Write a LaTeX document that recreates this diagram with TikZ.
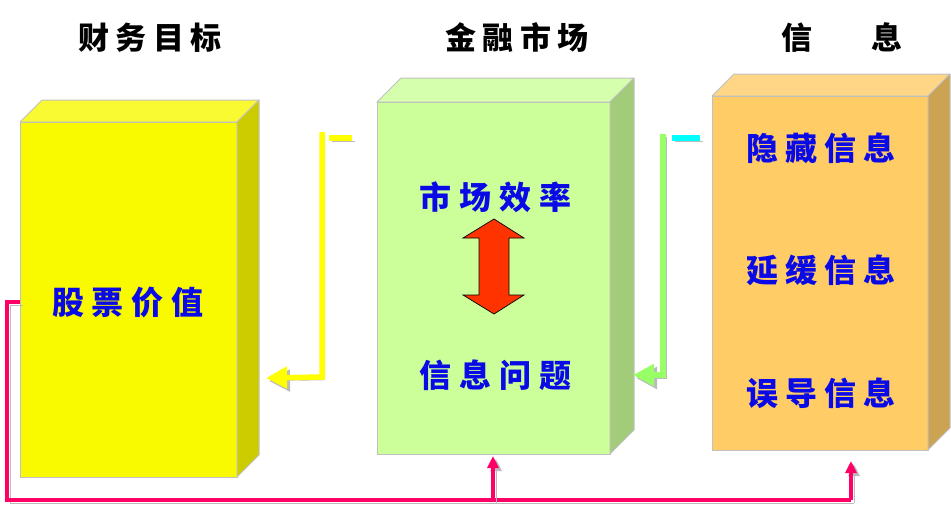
\documentclass[tikz,border=0pt]{standalone}
\usepackage{fontspec}
\newfontfamily\cjk{Noto Sans CJK SC}
\usetikzlibrary{calc,arrows.meta}
\definecolor{yfront}{HTML}{F9F900}
\definecolor{ytop}{HTML}{FAFA33}
\definecolor{yside}{HTML}{CCCC00}
\definecolor{gfront}{HTML}{CCFF99}
\definecolor{gtop}{HTML}{D6FFAD}
\definecolor{gside}{HTML}{A3CC7A}
\definecolor{ofront}{HTML}{FFCC66}
\definecolor{otop}{HTML}{FFD685}
\definecolor{oside}{HTML}{CCA352}
\definecolor{edge}{HTML}{C0C0C0}
\definecolor{txtblue}{HTML}{0A0AE6}
\definecolor{pinkline}{HTML}{FF0066}
\definecolor{yline}{HTML}{FFFF00}
\definecolor{gline}{HTML}{99FF66}
\definecolor{cline}{HTML}{00FFFF}
\definecolor{shadowc}{HTML}{BBBBBB}
\definecolor{redarrow}{HTML}{FF3300}
\newcommand\fourc[5]{#2\kern#1#3\kern#1#4\kern#1#5}
\begin{document}
\begin{tikzpicture}[x=1pt,y=-1pt,
  frontface/.style={draw=edge,line width=1pt,inner sep=0pt,outer sep=0pt},
  facebox/.style={draw=edge,line width=1pt,line join=round},
  title/.style={font=\cjk\bfseries\fontsize{31}{31}\selectfont,text=black,inner sep=0pt},
  boxtext/.style={font=\cjk\bfseries\fontsize{32}{32}\selectfont,text=txtblue,inner sep=0pt},
  shadowed/.style={preaction={draw=shadowc,transform canvas={shift={(3pt,-3pt)}}}},
  thickline/.style={line width=5.5pt,shadowed},
  pinkconn/.style={draw=pinkline,line width=3.5pt,shadowed},
  bigtip/.style={-{Triangle[length=21pt,width=21pt]}},
  smalltip/.style={-{Triangle[length=12pt,width=11pt]}}
]
\useasboundingbox (0,0) rectangle (951,509);

% titles
\node[title] (t1) at (150,38) {\fourc{6.5pt}{财}{务}{目}{标}};
\node[title] (t2) at (517,38) {\fourc{6.5pt}{金}{融}{市}{场}};
\node[title] (t3) at (842,38) {信\kern59pt息};

% yellow box
\node[frontface,fill=yfront,minimum width=217pt,minimum height=355pt] (yb) at (128.5,299.5) {};
\fill[ytop,facebox] (yb.north west) -- ($(yb.north west)+(22,-22)$) -- ($(yb.north east)+(22,-22)$) -- (yb.north east) -- cycle;
\fill[yside,facebox] (yb.north east) -- ($(yb.north east)+(22,-22)$) -- ($(yb.south east)+(22,-22)$) -- (yb.south east) -- cycle;
\node[boxtext] (ytxt) at (128,302) {\fourc{8pt}{股}{票}{价}{值}};

% green box
\node[frontface,fill=gfront,minimum width=233pt,minimum height=352pt] (gb) at (493.5,278) {};
\fill[gtop,facebox] (gb.north west) -- ($(gb.north west)+(24,-24)$) -- ($(gb.north east)+(24,-24)$) -- (gb.north east) -- cycle;
\fill[gside,facebox] (gb.north east) -- ($(gb.north east)+(24,-24)$) -- ($(gb.south east)+(24,-24)$) -- (gb.south east) -- cycle;
\node[boxtext] (gtxt1) at (495,197) {\fourc{8pt}{市}{场}{效}{率}};
\node[boxtext] (gtxt2) at (495,375) {\fourc{8pt}{信}{息}{问}{题}};
% double arrow
\filldraw[fill=redarrow,draw=black,line width=0.7pt,line join=miter]
  (494,219) -- (524,238) -- (509,238) -- (509,295) -- (524,295) -- (494,314)
  -- (463,295) -- (479,295) -- (479,238) -- (463,238) -- cycle;

% orange box
\node[frontface,fill=ofront,minimum width=216pt,minimum height=354pt] (ob) at (820,273) {};
\fill[otop,facebox] (ob.north west) -- ($(ob.north west)+(22,-22)$) -- ($(ob.north east)+(22,-22)$) -- (ob.north east) -- cycle;
\fill[oside,facebox] (ob.north east) -- ($(ob.north east)+(22,-22)$) -- ($(ob.south east)+(22,-22)$) -- (ob.south east) -- cycle;
\node[boxtext] (otxt1) at (821,148) {\fourc{7pt}{隐}{藏}{信}{息}};
\node[boxtext] (otxt2) at (821,270) {\fourc{7pt}{延}{缓}{信}{息}};
\node[boxtext] (otxt3) at (821,393) {\fourc{7pt}{误}{导}{信}{息}};

% yellow connector (green box -> yellow box)
\coordinate (ya) at (352,138);
\coordinate (yb2) at (329,138);
\coordinate (yc) at (322,132);
\coordinate (yd) at (322,377);
\coordinate (ye) at (266,378);
\draw[yline,thickline] (ya) -- (yb2);
\draw[yline,thickline,bigtip] (yc) -- (yd) -- (ye);

% green connector (orange box -> green box)
\coordinate (ga) at (700,138);
\coordinate (gb2) at (672,138);
\coordinate (gc) at (663,134);
\coordinate (gd) at (663,375);
\coordinate (ge) at (633,375);
\draw[cline,thickline] (ga) -- (gb2);
\draw[gline,thickline,bigtip] (gc) -- (gd) -- (ge);

% pink feedback line
\coordinate (pl) at (7,500);
\coordinate (pm) at (493,500);
\coordinate (pr) at (851,500);
\coordinate (ptip1) at (493,456);
\coordinate (ptip2) at (851,461);
\coordinate (pstart) at ($(yb.west)+(0,2.5)$);
\draw[pinkconn,line join=miter] (pstart) -- (pstart -| pl) -- (pl) -- (pr);
\draw[pinkconn,smalltip] (pm) -- (ptip1);
\draw[pinkconn,smalltip] (pr) -- (ptip2);
\end{tikzpicture}
\end{document}
